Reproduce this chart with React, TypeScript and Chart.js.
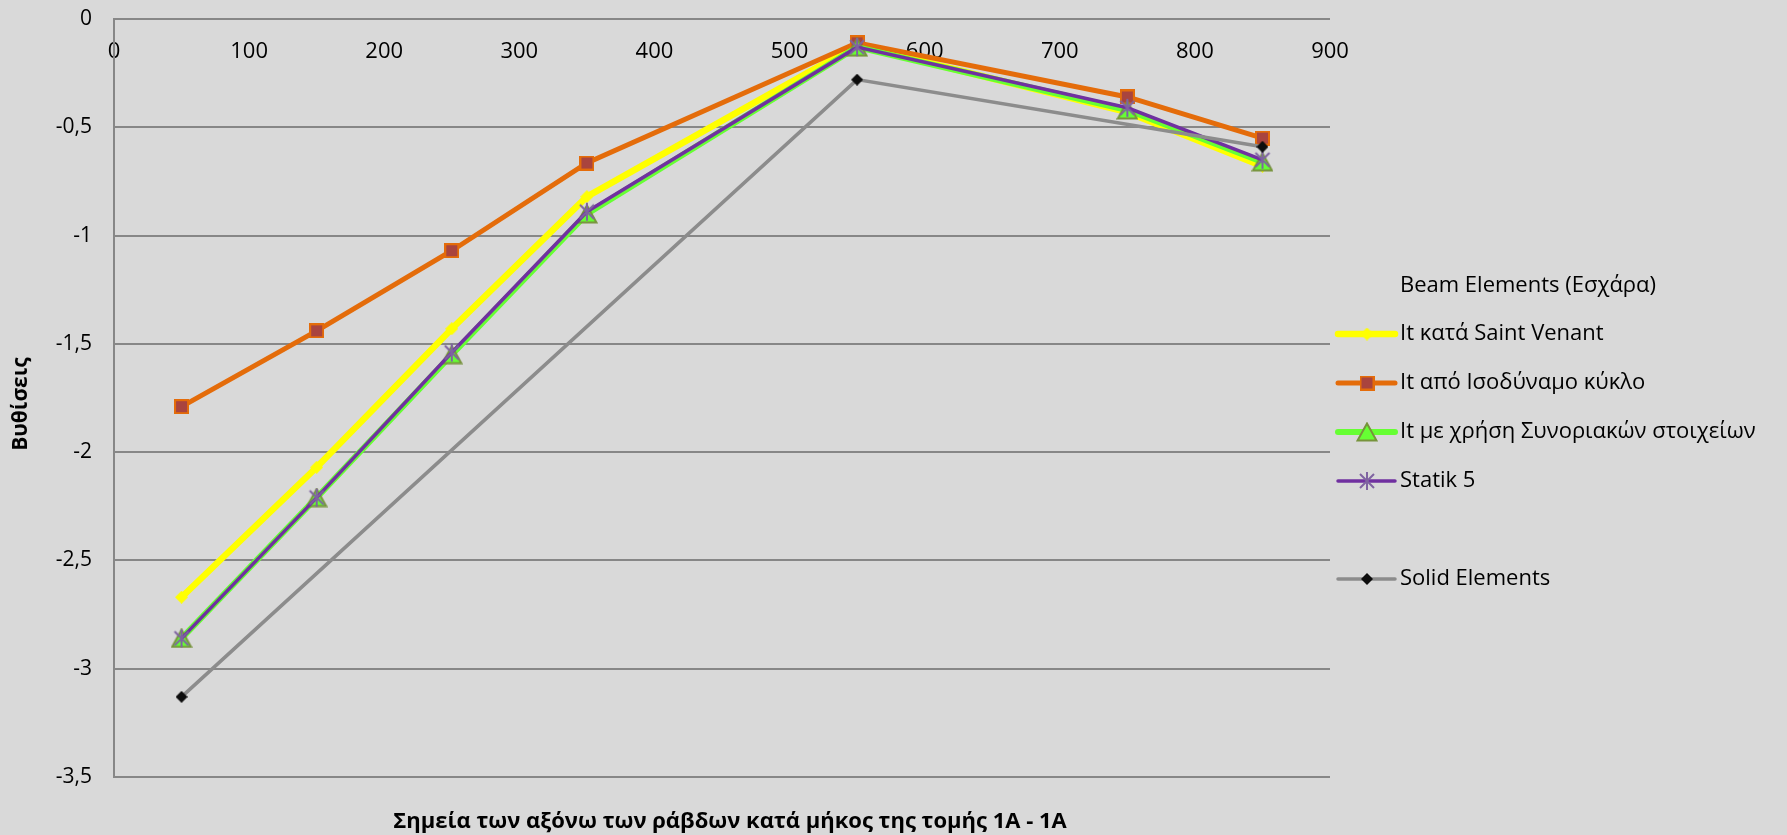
import React, { useEffect, useRef } from 'react';
import { Chart, registerables } from 'chart.js';

Chart.register(...registerables);

// ---------- data ----------
const xPositions = [50, 150, 250, 350, 550, 750, 850];
const saintVenant = [-2.67, -2.07, -1.43, -0.82, -0.12, -0.43, -0.68];
const isodynamo = [-1.79, -1.44, -1.07, -0.665, -0.11, -0.36, -0.55];
const synoriaka = [-2.86, -2.21, -1.55, -0.9, -0.13, -0.42, -0.66];
const statik5 = [-2.86, -2.21, -1.54, -0.89, -0.13, -0.41, -0.65];
const solidX = [50, 550, 850];
const solidValues = [-3.13, -0.28, -0.59];

const seriesNames = [
  'It κατά Saint Venant',
  'It από Ισοδύναμο κύκλο',
  'It με χρήση Συνοριακών στοιχείων',
  'Statik 5',
  'Solid Elements',
];
const legendTitle = 'Beam Elements (Εσχάρα)';
const xAxisTitle = 'Σημεία των αξόνω των ράβδων κατά μήκος της τομής 1Α - 1Α';
const yAxisTitle = 'Βυθίσεις';

const FONT = "'Open Sans', 'Noto Sans', sans-serif";

// ---------- marker images ----------
function makeCanvas(w: number, h: number, draw: (c: CanvasRenderingContext2D) => void) {
  const c = document.createElement('canvas');
  c.width = w;
  c.height = h;
  const ctx = c.getContext('2d')!;
  draw(ctx);
  return c;
}

function diamond(size: number, fill: string) {
  return makeCanvas(size, size, (c) => {
    const h = size / 2;
    c.fillStyle = fill;
    c.beginPath();
    c.moveTo(h, 0);
    c.lineTo(size, h);
    c.lineTo(h, size);
    c.lineTo(0, h);
    c.closePath();
    c.fill();
  });
}

function square() {
  return makeCanvas(15, 15, (c) => {
    c.fillStyle = '#a9443e';
    c.fillRect(1, 1, 13, 13);
    c.strokeStyle = '#e46c0a';
    c.lineWidth = 2;
    c.strokeRect(1, 1, 13, 13);
  });
}

function triangle() {
  return makeCanvas(22, 20, (c) => {
    c.fillStyle = '#66ff33';
    c.strokeStyle = '#77933c';
    c.lineWidth = 2;
    c.beginPath();
    c.moveTo(11, 1.5);
    c.lineTo(20.5, 18.5);
    c.lineTo(1.5, 18.5);
    c.closePath();
    c.fill();
    c.stroke();
  });
}

function star() {
  return makeCanvas(18, 20, (c) => {
    c.strokeStyle = '#7f63a1';
    c.lineWidth = 2;
    c.beginPath();
    c.moveTo(2, 3);
    c.lineTo(16, 17);
    c.moveTo(16, 3);
    c.lineTo(2, 17);
    c.moveTo(9, 1);
    c.lineTo(9, 19);
    c.stroke();
  });
}

export default function App() {
  const ref = useRef<HTMLCanvasElement>(null);

  useEffect(() => {
    const markers = [diamond(13, '#ffff00'), square(), triangle(), star(), diamond(12, '#0d0d0d')];
    const lineColors = ['#ffff00', '#e46c0a', '#66ff33', '#7030a0', '#8c8c8c'];
    const lineWidths = [6.5, 5, 6, 3.5, 3.5];

    const toPts = (xs: number[], ys: number[]) => xs.map((x, i) => ({ x, y: ys[i] }));
    const seriesData = [
      toPts(xPositions, saintVenant),
      toPts(xPositions, isodynamo),
      toPts(xPositions, synoriaka),
      toPts(xPositions, statik5),
      toPts(solidX, solidValues),
    ];
    const orders = [5, 4, 3, 2, 1];

    const bgPlugin = {
      id: 'bgFill',
      beforeDraw(chart: any) {
        const { ctx, width, height } = chart;
        ctx.save();
        ctx.fillStyle = '#d9d9d9';
        ctx.fillRect(0, 0, width, height);
        ctx.restore();
      },
    };

    const decorPlugin = {
      id: 'decor',
      afterDraw(chart: any) {
        const { ctx, chartArea } = chart;
        ctx.save();
        // axis titles
        ctx.fillStyle = '#000';
        ctx.font = `bold 22px ${FONT}`;
        ctx.textAlign = 'center';
        ctx.textBaseline = 'middle';
        ctx.fillText(xAxisTitle, (chartArea.left + chartArea.right) / 2 + 8, 822);
        ctx.font = `bold 21px ${FONT}`;
        ctx.save();
        ctx.translate(21, (chartArea.top + chartArea.bottom) / 2 + 6);
        ctx.rotate(-Math.PI / 2);
        ctx.fillText(yAxisTitle, 0, 0);
        ctx.restore();

        // legend
        const lx0 = 1338;
        const lx1 = 1395;
        const mx = 1367;
        const tx = 1400;
        ctx.font = `22px ${FONT}`;
        ctx.textAlign = 'left';
        ctx.fillStyle = '#000';
        ctx.fillText(legendTitle, tx, 286);
        const slots = [0, 1, 2, 3, 5];
        for (let i = 0; i < seriesNames.length; i++) {
          const y = 334 + slots[i] * 49;
          ctx.strokeStyle = lineColors[i];
          ctx.lineWidth = lineWidths[i];
          ctx.lineCap = 'round';
          ctx.beginPath();
          ctx.moveTo(lx0, y);
          ctx.lineTo(lx1, y);
          ctx.stroke();
          const m = markers[i];
          ctx.drawImage(m, mx - m.width / 2, y - m.height / 2);
          ctx.fillStyle = '#000';
          ctx.fillText(seriesNames[i], tx, y);
        }
        ctx.restore();
      },
    };

    const chart = new Chart(ref.current!, {
      type: 'line',
      data: {
        datasets: seriesData.map((d, i) => ({
          label: seriesNames[i],
          data: d,
          borderColor: lineColors[i],
          backgroundColor: lineColors[i],
          borderWidth: lineWidths[i],
          tension: 0,
          fill: false,
          pointStyle: markers[i] as any,
          pointRadius: 6,
          order: orders[i],
        })),
      },
      options: {
        responsive: false,
        animation: false,
        events: [],
        layout: { padding: { left: 0, top: 19, right: 457, bottom: 58 } },
        plugins: {
          legend: { display: false },
          tooltip: { enabled: false },
          title: { display: false },
        },
        scales: {
          x: {
            type: 'linear',
            min: 0,
            max: 900,
            position: { y: 0 } as any,
            grid: { display: false, drawTicks: false },
            border: { display: false },
            ticks: {
              stepSize: 100,
              padding: 20,
              color: '#000',
              font: { family: FONT, size: 22 },
            },
            afterFit: (s: any) => {
              s.height = 0;
              s.paddingLeft = 0;
              s.paddingRight = 0;
            },
          },
          y: {
            type: 'linear',
            min: -3.5,
            max: 0,
            position: 'left',
            grid: { color: '#878787', lineWidth: 2, drawTicks: false },
            border: { display: true, color: '#878787', width: 2 },
            ticks: {
              stepSize: 0.5,
              padding: 22,
              color: '#000',
              font: { family: FONT, size: 21 },
              callback: (v: any) => String(v).replace('.', ','),
            },
            afterFit: (s: any) => {
              s.width = 114;
              s.paddingTop = 0;
              s.paddingBottom = 0;
            },
          },
        },
      },
      plugins: [bgPlugin, decorPlugin],
    } as any);

    return () => chart.destroy();
  }, []);

  return (
    <div
      style={{
        position: 'fixed',
        left: 0,
        top: 0,
        width: 1787,
        height: 835,
        background: '#d9d9d9',
      }}
    >
      <canvas ref={ref} width={1787} height={835} style={{ display: 'block', width: 1787, height: 835 }} />
    </div>
  );
}
